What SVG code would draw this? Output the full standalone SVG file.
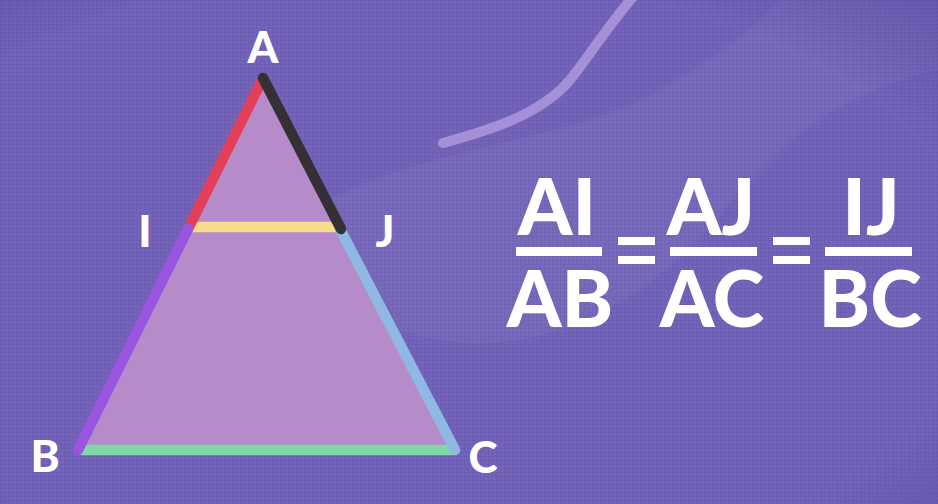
<svg xmlns="http://www.w3.org/2000/svg" width="938" height="504" viewBox="0 0 938 504">
<style>
.lbl{font-family:Lato,"Open Sans","Liberation Sans",sans-serif;font-weight:900;fill:#ffffff;text-anchor:middle}
.sm{font-size:44px}
.big{font-size:78px}
.side{fill:none;stroke-width:10.5;stroke-linecap:round}
</style>
<defs>
<pattern id="grid" width="4" height="4" patternUnits="userSpaceOnUse">
<path d="M0 0.5H4M0.5 0V4" stroke="#3a2c80" stroke-width="1" opacity="0.12"/>
</pattern>
<radialGradient id="vig" cx="0.45" cy="0.55" r="0.8">
<stop offset="0.75" stop-color="#3a2a88" stop-opacity="0"/>
<stop offset="1" stop-color="#3a2a88" stop-opacity="0.3"/>
</radialGradient>
</defs>
<g id="background">
<rect width="938" height="504" fill="#7464ba"/>
<path d="M330 200 C420 150 560 140 640 100 C720 60 760 20 780 0 L938 0 L938 70 C850 90 800 130 760 170 C700 240 650 300 560 330 C500 350 440 345 400 330 Z" fill="#ffffff" opacity="0.04"/>
<rect width="938" height="504" fill="url(#grid)"/>
<rect width="938" height="504" fill="url(#vig)"/>
<path d="M443 143 C490 130 540 115 570 80 C590 55 605 30 632 -2" fill="none" stroke="#a590d8" stroke-width="10" stroke-linecap="round"/>
</g>
<g id="triangle">
<polygon points="263,78 78,450 455,450" fill="#b68bca"/>
</g>
<g id="connectors">
<line x1="190" y1="227" x2="339" y2="227" class="side" stroke="#f7dc8e" stroke-linecap="butt"/>
<line x1="82" y1="450" x2="452" y2="450" class="side" stroke="#7fd8a6" stroke-linecap="butt"/>
<line x1="263" y1="78" x2="188" y2="229" class="side" stroke="#e2405a" stroke-linecap="butt"/>
<line x1="188" y1="229" x2="78" y2="450" class="side" stroke="#9a55e0"/>
<line x1="340" y1="229" x2="455" y2="450" class="side" stroke="#8fb9e2"/>
<line x1="263" y1="78" x2="341" y2="229" class="side" stroke="#343036"/>
</g>
<g id="label-A"><text class="lbl sm" x="263" y="63">A</text></g>
<g id="label-I"><text class="lbl sm" x="145" y="247">I</text></g>
<g id="label-J"><text class="lbl sm" x="385" y="247">J</text></g>
<g id="label-B"><text class="lbl sm" x="45" y="472">B</text></g>
<g id="label-C"><text class="lbl sm" x="483" y="473">C</text></g>
<g id="equation">
<text class="lbl big" x="557" y="235">AI</text>
<rect x="516" y="247" width="86" height="9" fill="#ffffff"/>
<text class="lbl big" x="560" y="327">AB</text>
<rect x="618" y="237" width="37" height="8" fill="#ffffff"/>
<rect x="618" y="256" width="37" height="8" fill="#ffffff"/>
<text class="lbl big" x="711" y="235">AJ</text>
<rect x="670" y="247" width="87" height="9" fill="#ffffff"/>
<text class="lbl big" x="712" y="327">AC</text>
<rect x="773" y="237" width="37" height="8" fill="#ffffff"/>
<rect x="773" y="256" width="37" height="8" fill="#ffffff"/>
<text class="lbl big" x="871" y="235">IJ</text>
<rect x="825" y="247" width="87" height="9" fill="#ffffff"/>
<text class="lbl big" x="870" y="327">BC</text>
</g>
</svg>
